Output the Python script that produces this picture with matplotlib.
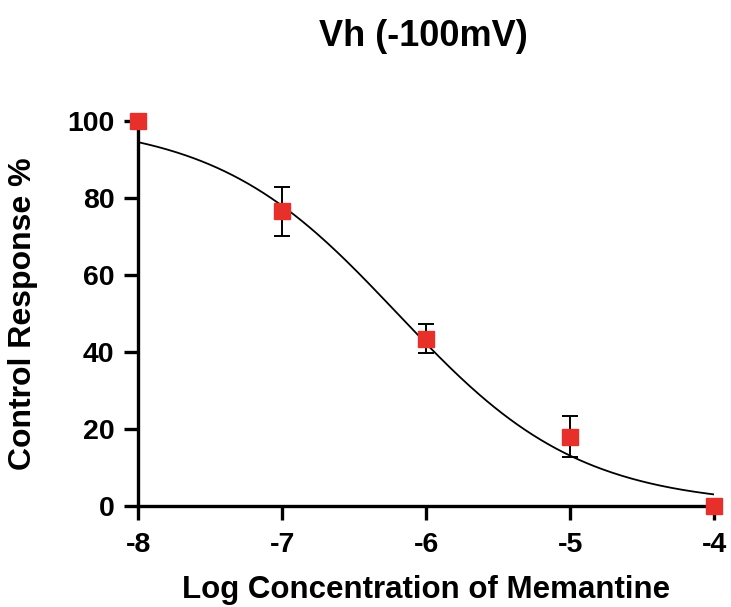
import numpy as np
import matplotlib
matplotlib.use("Agg")
import matplotlib.pyplot as plt

plt.rcParams['font.family'] = ['Liberation Sans', 'DejaVu Sans']
plt.rcParams['font.weight'] = 'bold'

log_conc = [-8, -7, -6, -5, -4]
response = [100, 76.5, 43.5, 18.0, 0.0]
sem = [0, 6.3, 3.8, 5.4, 0]

# fitted curve parameters (4PL with top=100, bottom=0)
top = 100.0
bottom = 0.0
log_ic50 = -6.2
hill = 0.686

xticks = [-8, -7, -6, -5, -4]
yticks = [0, 20, 40, 60, 80, 100]

fig = plt.figure(figsize=(7.31, 6.07), dpi=100)
ax = fig.add_axes([0.189, 0.1664, 0.788, 0.6343])

xc = np.linspace(-8, -4, 300)
yc = bottom + (top - bottom) / (1 + 10 ** ((xc - log_ic50) * hill))
ax.plot(xc, yc, color='black', lw=1.3, zorder=2)

ax.errorbar(log_conc, response, yerr=[s if s > 0 else np.nan for s in sem], fmt='none',
            ecolor='black', elinewidth=1.4, capsize=6, capthick=1.4, zorder=3)
ax.plot(log_conc, response, 's', color='#E8302A', markersize=11.5, zorder=4, clip_on=False)

ax.set_xlim(-8, -4)
ax.set_ylim(0, 100)
ax.set_xticks(xticks)
ax.set_yticks(yticks)
ax.set_xticklabels([str(t) for t in xticks])
ax.set_yticklabels([str(t) for t in yticks])

for s in ['top', 'right']:
    ax.spines[s].set_visible(False)
for s in ['left', 'bottom']:
    ax.spines[s].set_linewidth(2.4)
ax.tick_params(width=2.4, length=10, labelsize=20.5)
ax.tick_params(axis='y', pad=7)
ax.tick_params(axis='x', pad=9)
for lab in ax.get_xticklabels() + ax.get_yticklabels():
    lab.set_fontweight('bold')

ax.set_xlabel('Log Concentration of Memantine', fontsize=22.5, fontweight='bold', labelpad=12)
ax.set_ylabel('Control Response %', fontsize=23, fontweight='bold')
ax.yaxis.set_label_coords(-0.174, 0.5)
fig.text(0.579, 0.94, 'Vh (-100mV)', fontsize=26, fontweight='bold', ha='center', va='center')

fig.savefig('out.png', dpi=100)
